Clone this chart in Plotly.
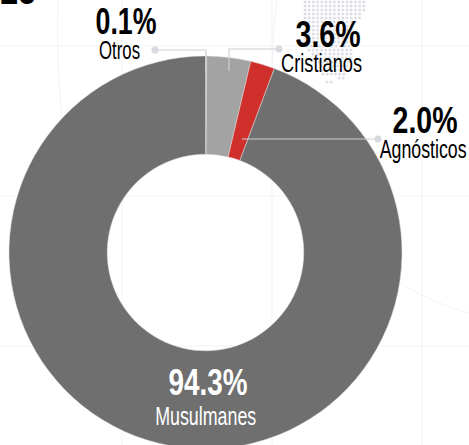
import json
import plotly.graph_objects as go

categories = ["Otros", "Cristianos", "Agnósticos", "Musulmanes"]
values = [0.1, 3.6, 2.0, 94.3]
pct_labels = ["0.1%", "3.6%", "2.0%", "94.3%"]
colors = ["#A3A3A3", "#A3A3A3", "#D0302B", "#6F6F6F"]

# Background dot map, one entry per row
dot_rows_y = [2, 6, 10, 14, 18, 22, 26, 30, 34, 38, 42, 46, 50, 54, 58, 62, 66, 70, 74, 78, 82]
dot_rows_start = [305, 305, 305, 305, 305, 305, 305, 305, 305, 305, 305, 307, 309, 313, 317, 319, 321, 323, 323, 339, 327]
dot_rows_end = [367, 367, 367, 363, 361, 357, 355, 355, 353, 353, 351, 351, 351, 351, 351, 349, 347, 345, 345, 345, 333]
dot_step = 4.2

W, H = 469, 460
FONT = "Liberation Sans"


def px(x):
    return x / W


def py(y):
    return 1 - y / H


dot_x, dot_y = [], []
for y, a, b in zip(dot_rows_y, dot_rows_start, dot_rows_end):
    n = int((b - a) / dot_step) + 1
    for i in range(n):
        dot_x.append(a + i * dot_step)
        dot_y.append(y)

fig = go.Figure()
fig.add_trace(go.Scatter(x=dot_x, y=dot_y, mode="markers", hoverinfo="skip", showlegend=False,
                         marker=dict(size=3, color="#DEDEE6", line=dict(width=0))))
fig.add_trace(go.Pie(
    labels=categories, values=values, hole=0.5, sort=False, direction="clockwise",
    rotation=0, textinfo="none", hoverinfo="label+percent",
    marker=dict(colors=colors, line=dict(color="#DDDDDD", width=0.5)),
    domain=dict(x=[px(9), px(402)], y=[py(449), py(56)]), showlegend=False,
))

shapes = []
for x in (122, 272, 422):
    shapes.append(dict(type="line", xref="paper", yref="paper", x0=px(x), x1=px(x), y0=0, y1=1,
                       line=dict(color="#F3F3F5", width=1), layer="below"))
for y in (46, 196, 346):
    shapes.append(dict(type="line", xref="paper", yref="paper", x0=0, x1=1, y0=py(y), y1=py(y),
                       line=dict(color="#F3F3F5", width=1), layer="below"))

arcs = [
    [(58, 0), (56, 60), (62, 118)],
    [(277, 0), (273, 30), (272, 70)],
    [(400, 283), (432, 303), (469, 313)],
]
for (a, c, b) in arcs:
    path = (f"M {px(a[0])} {py(a[1])} Q {px(c[0])} {py(c[1])} {px(b[0])} {py(b[1])}")
    shapes.append(dict(type="path", path=path, xref="paper", yref="paper",
                       line=dict(color="#F3F3F5", width=1), layer="below"))

leaders = [
    [(155, 50), (206, 50), (206, 72)],
    [(279, 49), (229, 49), (229, 71)],
    [(242, 139), (378, 139)],
]
for pts in leaders:
    path = "M " + " L ".join(f"{px(x)} {py(y)}" for x, y in pts)
    shapes.append(dict(type="path", path=path, xref="paper", yref="paper",
                       line=dict(color="#CFCFD6", width=1.2), layer="above"))
for x, y in [(155, 50), (279, 49), (378, 139)]:
    shapes.append(dict(type="circle", xref="paper", yref="paper",
                       x0=px(x - 3.5), x1=px(x + 3.5), y0=py(y + 3.5), y1=py(y - 3.5),
                       fillcolor="#D9D9E0", line=dict(width=0), layer="above"))

# x centre, y centre, text, size, colour, bold, target width in px
annos = [
    (125.5, 22, "0.1%", 36, "black", True, 61),
    (119.5, 50, "Otros", 25, "black", False, 41),
    (327.5, 34, "3.6%", 36, "black", True, 65),
    (321.5, 63, "Cristianos", 25, "black", False, 81),
    (424.5, 120, "2.0%", 36, "black", True, 65),
    (422.5, 149, "Agnósticos", 25, "black", False, 87),
    (207.5, 382, "94.3%", 36, "white", True, 79),
    (205.5, 416, "Musulmanes", 26, "white", False, 101),
    (18, -11, "25", 42, "black", True, 36),
]
annotations = [dict(x=px(x), y=py(y), xref="paper", yref="paper", text=t, showarrow=False,
                    xanchor="center", yanchor="middle",
                    font=dict(family=FONT, size=s, color=c, weight="bold" if b else "normal"))
               for x, y, t, s, c, b, w in annos]

fig.update_layout(width=W, height=H, margin=dict(l=0, r=0, t=0, b=0),
                  paper_bgcolor="white", plot_bgcolor="rgba(0,0,0,0)",
                  xaxis=dict(visible=False, range=[0, W], fixedrange=True),
                  yaxis=dict(visible=False, range=[H, 0], fixedrange=True),
                  shapes=shapes, annotations=annotations)

widths = {t: w for x, y, t, s, c, b, w in annos}
post = """
document.body.style.margin='0';
document.documentElement.style.overflow='hidden';
var widths=%s;
document.querySelectorAll('.annotation-text').forEach(function(el){
  var w=widths[el.textContent];
  if(w){
    el.setAttribute('textLength',w);
    el.setAttribute('lengthAdjust','spacingAndGlyphs');
  }
});
""" % json.dumps(widths)
fig.write_html("out.html", post_script=post, config={"displayModeBar": False})
